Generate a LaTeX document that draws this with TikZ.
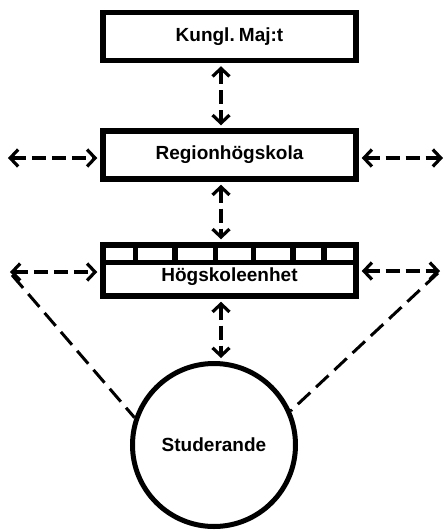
\documentclass[tikz,border=0pt]{standalone}
\usepackage{fontspec}
\setmainfont{Liberation Sans}
\usetikzlibrary{arrows.meta}
\begin{document}
\begin{tikzpicture}[x=1pt,y=-1pt,
  lbl/.style={font=\fontsize{19}{22}\selectfont\bfseries},
  box/.style={draw=black, fill=white, line width=5.5pt, rectangle, inner sep=0pt},
  biarrow/.style={line width=3.2pt, dash pattern=on 14pt off 6pt,
    {Straight Barb[length=8pt,width=17pt]}-{Straight Barb[length=8pt,width=17pt]},
    shorten <=3pt, shorten >=3pt},
  diag/.style={line width=3pt, dash pattern=on 17pt off 8pt},
  divider/.style={line width=5.5pt}
]
\useasboundingbox (0,0) rectangle (444,531);
% nodes
\node[box, lbl, minimum width=253pt, minimum height=48pt] (kungl) at (229.5,36.5) {Kungl.\hspace{0.22em}Maj:t};
\node[box, lbl, minimum width=253pt, minimum height=48pt] (region) at (229.5,155) {Regionhögskola};
\node[box, minimum width=253pt, minimum height=51pt,
  label={[lbl, yshift=-6.5pt]center:Högskoleenhet}] (hogsk) at (229.5,270.5) {};
\node[draw=black, line width=5pt, circle, minimum size=163pt, inner sep=0pt, lbl] (stud) at (214,445) {Studerande};
% cells of Högskoleenhet
\draw[divider] (hogsk.west |- 0,262.5) -- (hogsk.east |- 0,262.5);
\foreach \xx in {135.5,175,215.5,253.5,293,324}
  \draw[divider] (\xx,246) -- (\xx,262.5);
% coordinates
\coordinate (ax) at (221,0);
\coordinate (rl) at (8,158);
\coordinate (rr) at (443,158);
\coordinate (hl) at (10,272);
\coordinate (hr) at (440,271);
% vertical connectors
\draw[biarrow] (kungl.south -| ax) -- (region.north -| ax);
\draw[biarrow] (region.south -| ax) -- (hogsk.north -| ax);
\draw[biarrow] (hogsk.south -| ax) -- (stud.north -| ax);
% horizontal connectors
\draw[biarrow, shorten <=0pt] (rl) -- (rl -| region.west);
\draw[biarrow, shorten >=0pt] (rr -| region.east) -- (rr);
\draw[biarrow, shorten <=0pt] (hl) -- (hl -| hogsk.west);
\draw[biarrow, shorten >=0pt] (hr -| hogsk.east) -- (hr);
% diagonals
\draw[diag] ([xshift=2pt,yshift=-3pt]hl) -- (stud.161);
\draw[diag] ([xshift=-2pt,yshift=-2pt]hr) -- (stud.24);
\end{tikzpicture}
\end{document}
